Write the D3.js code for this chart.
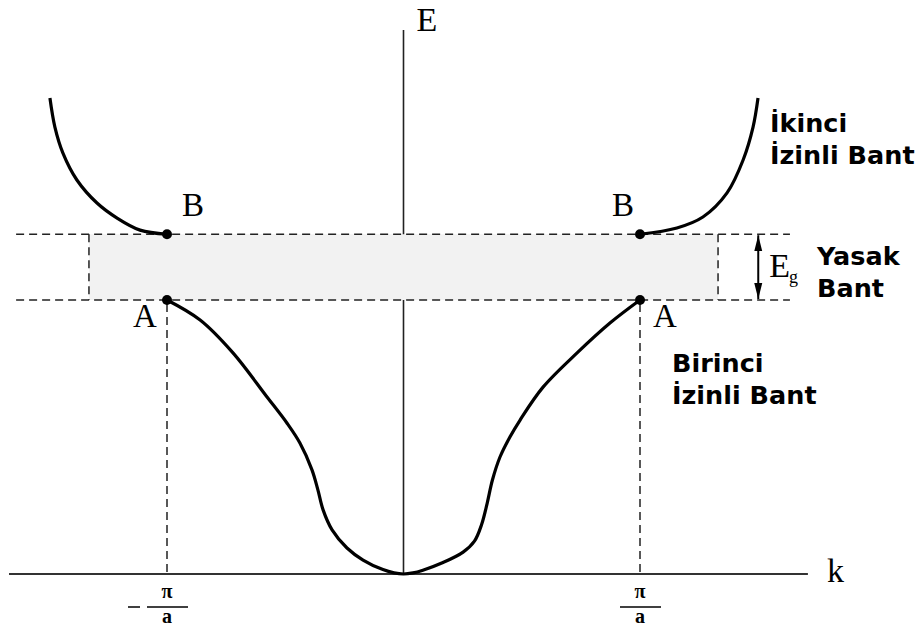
<!DOCTYPE html>
<html>
<head>
<meta charset="utf-8">
<script src="https://cdn.jsdelivr.net/npm/d3@7/dist/d3.min.js"></script>
<style>
  html, body { margin: 0; padding: 0; background: #fff; }
  svg { display: block; }
</style>
</head>
<body>
<svg id="chart" width="924" height="631"></svg>
<script>
// Wave vector k in units of pi/a, energy E in units of the first band top (A).
const lowerBand = [
  [-1, 1], [-0.86, 0.927], [-0.721, 0.807], [-0.577, 0.646], [-0.493, 0.551],
  [-0.438, 0.478], [-0.387, 0.38], [-0.362, 0.307], [-0.34, 0.234],
  [-0.302, 0.161], [-0.239, 0.095], [-0.171, 0.051], [-0.087, 0.016],
  [-0.04, 0.004], [0, 0], [0.04, 0.004],
  [0.082, 0.014], [0.167, 0.042], [0.252, 0.08], [0.3, 0.12],
  [0.33, 0.18], [0.354, 0.259], [0.376, 0.343], [0.408, 0.427],
  [0.45, 0.5], [0.493, 0.562], [0.59, 0.682], [0.734, 0.807],
  [0.873, 0.916], [1, 1]
];
const upperBandLeft = [
  [-1.495, 1.737], [-1.474, 1.631], [-1.44, 1.536], [-1.381, 1.438],
  [-1.296, 1.354], [-1.211, 1.299], [-1.114, 1.255], [-1, 1.24]
];
const upperBandRight = [
  [1, 1.24], [1.156, 1.263], [1.266, 1.303], [1.368, 1.391],
  [1.436, 1.511], [1.478, 1.631], [1.499, 1.737]
];
const bandEdges = { A: 1, B: 1.24 };          // energies of the gap edges
const zoneEdges = [-1, 1];                    // -pi/a and pi/a
const edgePoints = [
  { k: -1, E: 1, name: "A" }, { k: 1, E: 1, name: "A" },
  { k: -1, E: 1.24, name: "B" }, { k: 1, E: 1.24, name: "B" }
];
const kRange = [-1.668, 1.71];
const eTop = 1.985;
const gapLineRange = [-1.638, 1.634];
const gapBoxRange = [-1.33, 1.33];
const egArrowK = 1.5;

const svg = d3.select("#chart");
const x = d3.scaleLinear().domain([-1, 1]).range([167, 640]);
const y = d3.scaleLinear().domain([0, 1]).range([574, 300]);

const serif = "'Liberation Serif', 'Times New Roman', serif";
const sans = "'DejaVu Sans', Verdana, sans-serif";

// E axis (drawn first so the gap band sits on top of it)
svg.append("line")
  .attr("x1", x(0)).attr("x2", x(0))
  .attr("y1", y(eTop)).attr("y2", y(0))
  .attr("stroke", "#222").attr("stroke-width", 1.6);

// forbidden gap band
svg.append("rect")
  .attr("x", x(gapBoxRange[0])).attr("width", x(gapBoxRange[1]) - x(gapBoxRange[0]))
  .attr("y", y(bandEdges.B)).attr("height", y(bandEdges.A) - y(bandEdges.B))
  .attr("fill", "#f2f2f2");

const dash = "8,5";
const dashed = svg.append("g").attr("stroke", "#222").attr("stroke-width", 1.5)
  .attr("stroke-dasharray", dash).attr("fill", "none");
[bandEdges.A, bandEdges.B].forEach(e => {
  dashed.append("line")
    .attr("x1", x(gapLineRange[0])).attr("x2", x(gapLineRange[1]))
    .attr("y1", y(e)).attr("y2", y(e));
});
gapBoxRange.forEach(k => {
  dashed.append("line")
    .attr("x1", x(k)).attr("x2", x(k))
    .attr("y1", y(bandEdges.B)).attr("y2", y(bandEdges.A));
});
zoneEdges.forEach(k => {
  dashed.append("line")
    .attr("x1", x(k)).attr("x2", x(k))
    .attr("y1", y(bandEdges.A) + 4).attr("y2", y(0));
});

// k axis
svg.append("line")
  .attr("x1", x(kRange[0])).attr("x2", x(kRange[1]))
  .attr("y1", y(0)).attr("y2", y(0))
  .attr("stroke", "#333").attr("stroke-width", 2);

// energy bands
const line = d3.line().x(d => x(d[0])).y(d => y(d[1])).curve(d3.curveCatmullRom.alpha(0.5));
[lowerBand, upperBandLeft, upperBandRight].forEach(band => {
  svg.append("path").attr("d", line(band))
    .attr("fill", "none").attr("stroke", "#000").attr("stroke-width", 3.2)
    .attr("stroke-linejoin", "round");
});

// band edge points
svg.selectAll("circle.edge").data(edgePoints).join("circle")
  .attr("class", "edge")
  .attr("cx", d => x(d.k)).attr("cy", d => y(d.E)).attr("r", 5).attr("fill", "#000");

// point letters
const letterPos = [
  { t: "B", x: x(-1) + 15, y: y(bandEdges.B) - 18 },
  { t: "B", x: x(1) - 28, y: y(bandEdges.B) - 18 },
  { t: "A", x: x(-1) - 34, y: y(bandEdges.A) + 27 },
  { t: "A", x: x(1) + 13, y: y(bandEdges.A) + 27 }
];
svg.selectAll("text.pt").data(letterPos).join("text")
  .attr("class", "pt").attr("x", d => d.x).attr("y", d => d.y)
  .attr("font-family", serif).attr("font-size", 33).attr("fill", "#000")
  .text(d => d.t);

// axis titles
svg.append("text").attr("x", x(0) + 13).attr("y", 31)
  .attr("font-family", serif).attr("font-size", 34).text("E");
svg.append("text").attr("x", 827).attr("y", 582)
  .attr("font-family", serif).attr("font-size", 34).text("k");

// tick labels: -pi/a and pi/a as fractions
zoneEdges.forEach(k => {
  const cx = x(k);
  const g = svg.append("g");
  g.append("text").attr("x", cx).attr("y", 598).attr("text-anchor", "middle")
    .attr("font-family", serif).attr("font-weight", "bold").attr("font-size", 20).text("π");
  g.append("line").attr("x1", cx - 20).attr("x2", cx + 21)
    .attr("y1", 607).attr("y2", 607).attr("stroke", "#000").attr("stroke-width", 1.5);
  g.append("text").attr("x", cx).attr("y", 623).attr("text-anchor", "middle")
    .attr("font-family", serif).attr("font-weight", "bold").attr("font-size", 20).text("a");
  if (k < 0) {
    g.append("line").attr("x1", cx - 39).attr("x2", cx - 27)
      .attr("y1", 607).attr("y2", 607).attr("stroke", "#000").attr("stroke-width", 1.5);
  }
});

// band gap arrow
const defs = svg.append("defs");
defs.append("marker").attr("id", "arrow").attr("viewBox", "0 0 16 10")
  .attr("refX", 16).attr("refY", 5).attr("markerWidth", 16).attr("markerHeight", 10)
  .attr("markerUnits", "userSpaceOnUse").attr("orient", "auto-start-reverse")
  .append("path").attr("d", "M0,1 L16,5 L0,9 Z").attr("fill", "#000");
svg.append("line")
  .attr("x1", x(egArrowK)).attr("x2", x(egArrowK))
  .attr("y1", y(bandEdges.B) + 1).attr("y2", y(bandEdges.A) - 1)
  .attr("stroke", "#000").attr("stroke-width", 2)
  .attr("marker-start", "url(#arrow)").attr("marker-end", "url(#arrow)");
const eg = svg.append("text").attr("x", x(egArrowK) + 11).attr("y", 277)
  .attr("font-family", serif).attr("font-size", 34);
eg.append("tspan").text("E");
eg.append("tspan").attr("font-size", 18).attr("dy", 6).attr("dx", -1).text("g");

// band names
const labels = [
  { lines: ["İkinci", "İzinli Bant"], x: 770, y: 132 },
  { lines: ["Yasak", "Bant"], x: 817, y: 265 },
  { lines: ["Birinci", "İzinli Bant"], x: 672, y: 372 }
];
labels.forEach(l => {
  const t = svg.append("text").attr("x", l.x).attr("y", l.y)
    .attr("font-family", sans).attr("font-weight", "bold").attr("font-size", 25.5)
    .attr("fill", "#000");
  l.lines.forEach((s, i) => {
    t.append("tspan").attr("x", l.x).attr("dy", i === 0 ? 0 : 32).text(s);
  });
});
</script>
</body>
</html>
